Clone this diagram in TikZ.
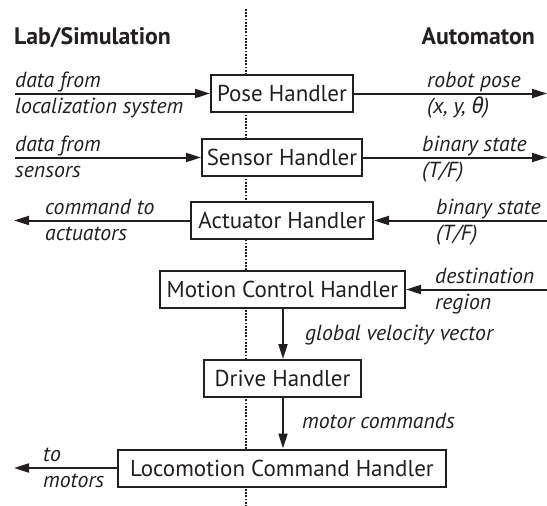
\documentclass[tikz,border=0pt]{standalone}
\usepackage{fontspec}
\setmainfont{PT Sans}
\newfontfamily\greekfont{Noto Sans}
\usetikzlibrary{arrows.meta}
\definecolor{ink}{HTML}{231F20}
\begin{document}
\begin{tikzpicture}[x=1pt,y=-1pt,
  handler/.style={draw=ink, line width=2pt, fill=white, minimum height=37pt,
    inner sep=0pt, text=ink, font=\fontsize{23}{27}\selectfont},
  flow/.style={draw=ink, line width=2pt, -{Triangle[length=15pt,width=9pt]}},
  lbl/.style={anchor=base west, inner sep=0pt, text=ink,
    font=\fontsize{21.8}{25}\selectfont\itshape},
  head/.style={inner sep=0pt, text=ink, font=\fontsize{23.8}{28}\selectfont\bfseries},
  divider/.style={draw=ink, line width=1.7pt, dash pattern=on 1.7pt off 1.5pt}]
\useasboundingbox (0,0) rectangle (547,506);

% dotted boundary between the two worlds
\coordinate (dtop) at (246,9);
\coordinate (dbot) at (246,506);
\draw[divider] (dtop) -- (dbot);

% column headings
\node[head, anchor=base west] (labhead) at (14,45) {Lab/Simulation};
\node[head, anchor=base east] (autohead) at (535,45) {Automaton};

% handlers
\node[handler, minimum width=142pt] (pose)  at (282,93.5)  {Pose Handler};
\node[handler, minimum width=160pt] (sens)  at (282,157.5) {Sensor Handler};
\node[handler, minimum width=182pt] (act)   at (282,220.5) {Actuator Handler};
\node[handler, minimum width=245pt] (mot)   at (282.5,289.5) {Motion Control Handler};
\node[handler, minimum width=157pt] (drv)   at (282.5,378.5) {Drive Handler};
\node[handler, minimum width=328pt] (loco)  at (282,468)   {Locomotion Command Handler};

% pose handler
\coordinate (poseIn)  at (15,93.5);
\coordinate (poseOut) at (547,93.5);
\draw[flow] (poseIn) -- (pose.west);
\draw[flow] (pose.east) -- (poseOut);
\node[lbl] (poseInA)  at (15,87)   {data from};
\node[lbl] (poseInB)  at (15,113)  {localization system};
\node[lbl] (poseOutA) at (427,87)  {robot pose};
\node[lbl] (poseOutB) at (427,113) {(x, y, {\greekfont\itshape θ})};

% sensor handler
\coordinate (sensIn)  at (15,157.5);
\coordinate (sensOut) at (547,157.5);
\draw[flow] (sensIn) -- (sens.west);
\draw[flow] (sens.east) -- (sensOut);
\node[lbl] (sensInA)  at (15,151)  {data from};
\node[lbl] (sensInB)  at (15,177)  {sensors};
\node[lbl] (sensOutA) at (422,151) {binary state};
\node[lbl] (sensOutB) at (422,177) {(T/F)};

% actuator handler
\coordinate (actOut) at (14,220.5);
\coordinate (actIn)  at (547,220.5);
\draw[flow] (act.west) -- (actOut);
\draw[flow] (actIn) -- (act.east);
\node[lbl] (actOutA) at (45,214)  {command to};
\node[lbl] (actOutB) at (45,240)  {actuators};
\node[lbl] (actInA)  at (436,214) {binary state};
\node[lbl] (actInB)  at (436,240) {(T/F)};

% motion control handler
\coordinate (motIn) at (547,289.5);
\draw[flow] (motIn) -- (mot.east);
\node[lbl] (motInA) at (435,283)   {destination};
\node[lbl] (motInB) at (435,309)   {region};

% motion -> drive -> locomotion
\draw[flow] (mot.south -| 283,0) -- (drv.north -| 283,0);
\node[lbl] (velLbl) at (305,340) {global velocity vector};
\draw[flow] (drv.south -| 283,0) -- (loco.north -| 283,0);
\node[lbl] (motLbl) at (302,428) {motor commands};

% locomotion output
\coordinate (locoOut) at (14,468);
\draw[flow] (loco.west) -- (locoOut);
\node[lbl] (locoA) at (43,461) {to};
\node[lbl] (locoB) at (43,487) {motors};
\end{tikzpicture}
\end{document}
